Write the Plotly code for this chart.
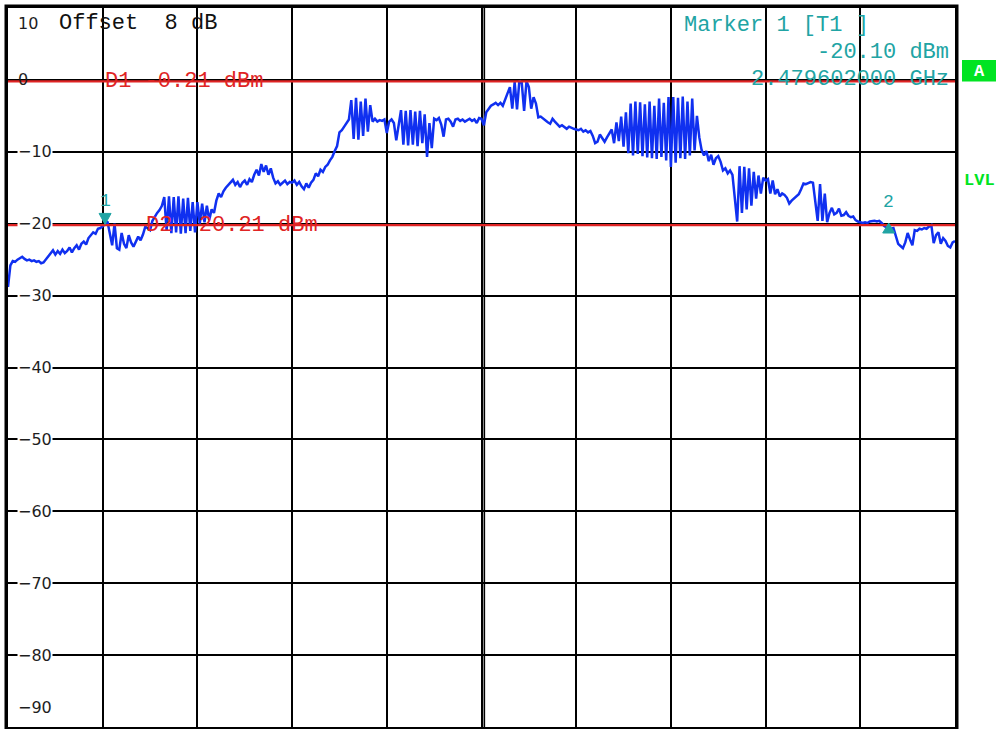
import plotly.graph_objects as go

# Trace level in dBm, 40 sweep points per horizontal division (last one closes the sweep)
div0 = [-28.8, -25.8, -25.2, -25.3, -25.0, -24.8, -24.6, -24.9, -25.1, -25.0,
        -25.2, -25.1, -25.3, -25.2, -25.5, -25.4, -25.0, -24.5, -24.2, -23.7,
        -24.3, -23.8, -24.2, -23.6, -24.1, -23.8, -23.3, -24.0, -23.4, -23.0,
        -23.6, -22.8, -22.5, -22.9, -22.0, -21.6, -21.2, -21.4, -20.7, -20.6]
div1 = [-20.4, -20.1, -19.7, -21.5, -23.0, -20.0, -23.4, -23.6, -21.3, -22.8,
        -23.4, -21.6, -22.6, -23.2, -22.4, -21.8, -22.3, -21.5, -20.4, -20.7,
        -20.9, -19.6, -19.0, -18.5, -18.1, -17.5, -16.3, -21.0, -16.2, -21.3,
        -16.3, -21.2, -16.2, -21.4, -16.5, -21.3, -16.4, -21.0, -17.0, -21.2]
div2 = [-17.0, -20.0, -17.2, -19.8, -17.5, -19.5, -18.0, -18.5, -16.8, -15.8,
        -16.3, -15.5, -15.0, -14.6, -14.3, -13.9, -14.6, -14.2, -14.9, -14.3,
        -14.0, -14.6, -13.8, -14.2, -13.2, -12.5, -13.3, -11.7, -12.8, -11.9,
        -13.2, -12.3, -13.6, -14.4, -14.1, -14.6, -14.3, -14.0, -14.5, -14.2]
div3 = [-14.3, -14.0, -14.6, -14.2, -14.8, -15.2, -14.4, -15.0, -14.3, -13.9,
        -13.0, -13.4, -12.5, -12.8, -12.1, -11.8, -11.2, -10.7, -9.9, -9.2,
        -7.3, -7.0, -6.5, -5.9, -5.5, -2.8, -8.2, -2.5, -8.3, -3.0,
        -7.8, -2.6, -7.2, -3.5, -5.8, -5.4, -5.8, -5.6, -5.7, -5.5]
div4 = [-7.4, -5.8, -5.5, -6.0, -8.4, -6.3, -4.2, -9.0, -4.3, -9.1,
        -4.2, -9.0, -4.4, -9.2, -4.3, -8.8, -4.8, -10.7, -6.0, -9.5,
        -5.4, -5.6, -5.3, -6.2, -7.9, -5.5, -5.4, -5.8, -6.5, -5.5,
        -5.4, -5.7, -5.5, -5.8, -5.6, -5.4, -5.7, -5.5, -6.0, -5.3]
div5 = [-5.4, -6.3, -4.5, -4.0, -3.6, -3.4, -3.2, -3.5, -3.2, -3.6,
        -2.8, -1.8, -1.0, -4.0, -0.3, -4.1, -0.1, -0.4, -4.3, -0.2,
        -1.0, -4.0, -2.4, -3.3, -5.2, -5.1, -5.4, -5.6, -5.9, -6.1,
        -5.4, -5.8, -6.1, -6.5, -6.3, -6.6, -6.8, -6.5, -6.7, -6.8]
div6 = [-6.9, -7.0, -6.8, -7.2, -7.0, -7.3, -7.1, -7.8, -8.8, -8.6,
        -7.6, -8.2, -8.6, -8.0, -7.4, -6.9, -8.8, -5.9, -8.5, -5.1,
        -9.3, -4.5, -10.2, -3.3, -10.5, -3.0, -10.3, -3.1, -10.6, -3.4,
        -10.8, -3.0, -10.9, -3.6, -11.0, -2.6, -10.7, -3.2, -11.2, -2.4]
div7 = [-12.1, -2.4, -11.5, -2.5, -10.9, -2.3, -11.0, -3.0, -10.5, -2.6,
        -9.8, -5.0, -8.0, -9.8, -10.5, -9.9, -11.3, -10.4, -11.8, -10.9,
        -10.6, -11.4, -12.6, -12.3, -13.0, -12.6, -13.2, -17.0, -19.7, -12.0,
        -18.5, -12.1, -18.0, -12.3, -17.5, -12.8, -16.5, -13.3, -15.8, -13.6]
div8 = [-14.0, -13.8, -15.8, -14.0, -15.9, -15.2, -16.2, -15.8, -16.0, -16.4,
        -17.2, -16.8, -16.5, -16.2, -15.9, -15.2, -14.4, -14.5, -14.3, -14.2,
        -14.3, -17.0, -19.6, -14.5, -19.6, -15.8, -19.8, -18.5, -17.8, -18.7,
        -18.5, -17.9, -18.9, -18.8, -18.4, -18.9, -19.1, -19.0, -19.5, -19.7]
div9 = [-19.8, -19.9, -19.8, -19.9, -19.7, -19.6, -19.6, -19.7, -19.6, -19.9,
        -20.3, -20.5, -20.6, -20.7, -20.6, -21.8, -22.8, -23.1, -23.4, -22.6,
        -21.3, -22.2, -23.0, -20.9, -21.0, -20.7, -20.8, -20.6, -20.7, -20.4,
        -20.2, -22.7, -21.6, -21.2, -22.8, -22.0, -22.4, -23.1, -23.3, -22.6,
        -22.4]

level_dbm = div0 + div1 + div2 + div3 + div4 + div5 + div6 + div7 + div8 + div9
sweep_point = list(range(len(level_dbm)))

# Level grid (dBm)
grid_levels = [10, 0, -10, -20, -30, -40, -50, -60, -70, -80, -90]
grid_labels = ["10", "0", "\u221210", "\u221220", "\u221230", "\u221240",
               "\u221250", "\u221260", "\u221270", "\u221280", "\u221290"]

# Display lines and markers
d1_dbm = -0.21
d2_dbm = -20.21
m1_point = 41
m1_dbm = -20.10
m1_freq = "2.479602000 GHz"
m2_point = 372
offset_db = 8

RED = "#e02424"
TEAL = "#21a4a4"
BLUE = "#1030f0"
GREEN = "#00e422"
MONO = "Liberation Mono, Courier New, monospace"
SANS = "DejaVu Sans, sans-serif"

W, H = 996, 729
L, R, T, B = 8, 41, 8, 2
PW, PH = W - L - R, H - T - B


def px_x(px):
    return (px - L) / PW


def px_y(py):
    return 1 - (py - T) / PH


fig = go.Figure()
fig.add_trace(go.Scatter(
    x=sweep_point, y=level_dbm, mode="lines",
    line=dict(color=BLUE, width=2.5), hoverinfo="skip",
))

n_last = len(level_dbm) - 1
fig.update_xaxes(range=[0, n_last], tick0=0, dtick=n_last / 10,
                 showgrid=True, gridcolor="black", gridwidth=1.6,
                 showticklabels=False, ticks="", zeroline=False,
                 showline=True, linecolor="black", linewidth=2, mirror=True)
fig.update_yaxes(range=[-90, 10], tick0=-90, dtick=10,
                 showgrid=True, gridcolor="black", gridwidth=1.6,
                 showticklabels=False, ticks="", zeroline=False,
                 showline=True, linecolor="black", linewidth=2, mirror=True)

shapes = []
# outer frame of the screen
shapes.append(dict(type="rect", xref="paper", yref="paper",
                   x0=px_x(5.5), x1=px_x(957.5), y0=px_y(728.5), y1=px_y(5.5),
                   line=dict(color="black", width=2), layer="above"))
# doubled centre line
shapes.append(dict(type="line", xref="x", yref="paper",
                   x0=n_last / 2 + 1.2, x1=n_last / 2 + 1.2, y0=0, y1=1,
                   line=dict(color="black", width=1.6), layer="below"))
# display lines D1 / D2
for lvl in (d1_dbm, d2_dbm):
    shapes.append(dict(type="line", xref="paper", yref="y", x0=0, x1=1,
                       y0=lvl, y1=lvl, line=dict(color=RED, width=2.2),
                       layer="above"))
# marker 1 (pointing down at the trace) and marker 2 (pointing up)
shapes.append(dict(type="path", xref="x", yref="y",
                   xsizemode="pixel", ysizemode="pixel",
                   xanchor=m1_point, yanchor=m1_dbm,
                   path="M -6,11 L 6,11 L 0,0 Z",
                   fillcolor=TEAL, line=dict(color=TEAL, width=1), layer="above"))
shapes.append(dict(type="path", xref="x", yref="y",
                   xsizemode="pixel", ysizemode="pixel",
                   xanchor=m2_point, yanchor=level_dbm[m2_point],
                   path="M -6,-5 L 6,-5 L 0,5 Z",
                   fillcolor=TEAL, line=dict(color=TEAL, width=1), layer="above"))
# trace-A indicator box
shapes.append(dict(type="rect", xref="paper", yref="paper",
                   x0=px_x(962), x1=px_x(997), y0=px_y(81.5), y1=px_y(60),
                   fillcolor=GREEN, line=dict(width=0)))

ann = []
for lvl, txt in zip(grid_levels, grid_labels):
    shift = 0
    if lvl == 10:
        shift = -15
    elif lvl == -90:
        shift = 20
    ann.append(dict(x=px_x(17), xref="paper", y=lvl, yref="y",
                    xanchor="left", yanchor="middle", yshift=shift,
                    text=txt, showarrow=False, borderpad=0,
                    bgcolor=None if lvl == 0 else "white",
                    font=dict(family=SANS, size=16, color="#1e1e1e")))


def mono(text, x, y, color, anchor="left", size=22, yref="paper"):
    ann.append(dict(x=x, xref="paper", y=y, yref=yref, xanchor=anchor,
                    yanchor="middle", text=text, showarrow=False, borderpad=0,
                    font=dict(family=MONO, size=size, color=color)))


mono(f"Offset  {offset_db} dB", px_x(58), px_y(24), "#111111")
mono(f"D1 {d1_dbm:.2f} dBm", px_x(104), d1_dbm, RED, yref="y")
mono(f"D2 {d2_dbm:.2f} dBm", px_x(145), d2_dbm, RED, yref="y")
mono("Marker 1 [T1 ]", px_x(683), px_y(25.5), TEAL)
mono(f"{m1_dbm:.2f} dBm", px_x(950), px_y(52.5), TEAL, anchor="right")
mono(m1_freq, px_x(950), px_y(79.5), TEAL, anchor="right")

ann.append(dict(x=m1_point, y=m1_dbm, xref="x", yref="y", yshift=23,
                xanchor="center", yanchor="middle",
                text="1", showarrow=False,
                font=dict(family=MONO, size=18, color=TEAL)))
ann.append(dict(x=m2_point, y=level_dbm[m2_point], xref="x", yref="y", yshift=26,
                xanchor="center", yanchor="middle",
                text="2", showarrow=False,
                font=dict(family=MONO, size=18, color=TEAL)))
ann.append(dict(x=px_x(979.5), y=px_y(71), xref="paper", yref="paper",
                xanchor="center", yanchor="middle",
                text="<b>A</b>", showarrow=False,
                font=dict(family=MONO, size=17, color="white")))
ann.append(dict(x=px_x(962), y=px_y(180), xref="paper", yref="paper",
                xanchor="left", yanchor="middle", text="<b>LVL</b>", showarrow=False,
                font=dict(family=MONO, size=17, color=GREEN)))

fig.update_layout(
    width=W, height=H, margin=dict(l=L, r=R, t=T, b=B),
    paper_bgcolor="white", plot_bgcolor="white", showlegend=False,
    shapes=shapes, annotations=ann,
)

fig.write_html("out.html")
